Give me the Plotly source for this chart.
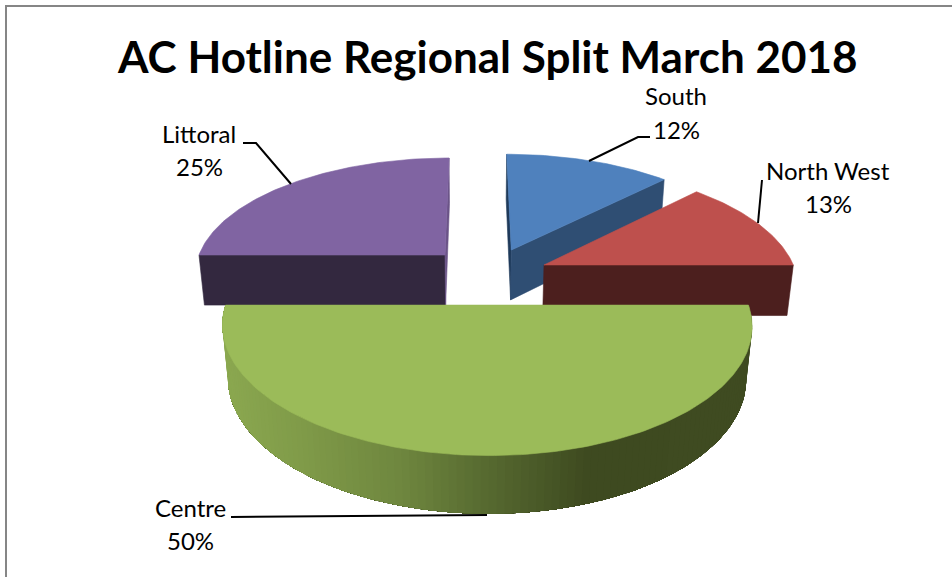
import math
import numpy as np
import plotly.graph_objects as go

# ---- data ----
categories = ["South", "North West", "Centre", "Littoral"]
values = [12.49, 12.51, 50.0, 25.0]

# ---- styling ----
TITLE = "AC Hotline Regional Split March 2018"
top_colors = ["#4F81BD", "#BE504D", "#9BBB59", "#8064A2"]
cut_colors = ["#2F4E73", "#4C1F1E", "#5D7035", "#33283F"]
explode_x = [35.5, 67.1, 10.3, -31.0]
explode_z = [11.0, -21.7, -103.5, 0.0]
FONT = "Lato"

W, H = 952, 577
VX = 476.0            # vanishing x
HORIZON = -490.0      # horizon y
TOP_A = 745.0         # camera height, top face
BOT_A = 811.0         # camera height, bottom face
BOT_U = 0.02          # extra depth of bottom face
R = 246.0
D = 1643.0
CENTRE_R = 245.0


def project(theta, ox, oz, bottom=False, radius=R):
    t = math.radians(theta)
    X = ox + radius * math.sin(t)
    Z = oz + radius * math.cos(t)
    u = 1 + Z / D
    if bottom:
        u += BOT_U
        return VX + X / u, HORIZON + BOT_A / u
    return VX + X / u, HORIZON + TOP_A / u


def poly(fig, pts, color, width=0.6):
    xs = [p[0] for p in pts] + [pts[0][0]]
    ys = [p[1] for p in pts] + [pts[0][1]]
    fig.add_trace(go.Scatter(x=xs, y=ys, mode="lines", fill="toself", fillcolor=color,
                             line=dict(color=color, width=width), hoverinfo="skip", showlegend=False))


def top_face(fig, a0, a1, ox, oz, color, radius=R):
    n = max(8, int(abs(a1 - a0)))
    pts = [project(0, ox, oz, radius=0)]
    pts += [project(a, ox, oz, radius=radius) for a in np.linspace(a0, a1, n + 1)]
    poly(fig, pts, color)


def cut_face(fig, a, ox, oz, color):
    poly(fig, [project(0, ox, oz, radius=0), project(a, ox, oz),
               project(a, ox, oz, bottom=True), project(0, ox, oz, bottom=True, radius=0)], color)


fig = go.Figure()

edges = np.concatenate([[0], np.cumsum(values)]) / sum(values) * 360
a = {c: (edges[i], edges[i + 1]) for i, c in enumerate(categories)}
idx = {c: i for i, c in enumerate(categories)}

# South
i = idx["South"]
cut_face(fig, a["South"][0], explode_x[i], explode_z[i], "#1F3A5A")
cut_face(fig, a["South"][1], explode_x[i], explode_z[i], cut_colors[i])
top_face(fig, *a["South"], explode_x[i], explode_z[i], top_colors[i])

# North West
i = idx["North West"]
cut_face(fig, a["North West"][1], explode_x[i], explode_z[i], cut_colors[i])
top_face(fig, *a["North West"], explode_x[i], explode_z[i], top_colors[i])

# Littoral
i = idx["Littoral"]
cut_face(fig, a["Littoral"][0], explode_x[i], explode_z[i], cut_colors[i])
cut_face(fig, a["Littoral"][1], explode_x[i], explode_z[i], "#6B5488")
top_face(fig, *a["Littoral"], explode_x[i], explode_z[i], top_colors[i])

# Centre: curved wall with a left-to-right shading, then the top face.
# Strips are painted right to left, each one reaching under the next, so no seams show.
i = idx["Centre"]
stop_x = [225, 300, 400, 490, 590, 755]
stop_rgb = np.array([[0x8B, 0xA8, 0x50], [0x80, 0x9B, 0x49], [0x6F, 0x87, 0x3F],
                     [0x56, 0x69, 0x30], [0x3E, 0x4A, 0x20], [0x40, 0x4C, 0x22]], dtype=float)
a0, a1 = a["Centre"]
steps = np.linspace(a0, a1, 121)
ox, oz = explode_x[i], explode_z[i]
for k0 in range(len(steps) - 1):
    s0 = steps[k0]
    s1 = steps[k0 + 1]
    arc = np.linspace(s0, a1, 2) if k0 == len(steps) - 2 else np.linspace(s0, a1, max(2, len(steps) - k0))
    top = [project(s, ox, oz, radius=CENTRE_R) for s in arc]
    bot = [project(s, ox, oz, bottom=True, radius=CENTRE_R) for s in arc[::-1]]
    xm = (project(s0, ox, oz, radius=CENTRE_R)[0] + project(s1, ox, oz, radius=CENTRE_R)[0]) / 2
    rgb = [int(np.interp(xm, stop_x, stop_rgb[:, c])) for c in range(3)]
    poly(fig, top + bot, f"rgb({rgb[0]},{rgb[1]},{rgb[2]})", width=0)
top_face(fig, a0, a1, ox, oz, top_colors[i], radius=CENTRE_R)

# Leader lines
leaders = {
    "Littoral": [(243, 143), (256, 143), (291, 184)],
    "South": [(650, 137), (638, 137), (589, 161)],
    "North West": [(762, 180), (758, 223)],
    "Centre": [(231, 517), (487, 515)],
}
for pts in leaders.values():
    fig.add_trace(go.Scatter(x=[p[0] for p in pts], y=[p[1] for p in pts], mode="lines",
                             line=dict(color="black", width=2), hoverinfo="skip", showlegend=False))

# Labels
label_pos = {
    "Littoral": (199, 133, 166),
    "South": (676, 95, 129),
    "North West": (828, 170, 203),
    "Centre": (190, 507, 540),
}
for c, v in zip(categories, values):
    x, y1, y2 = label_pos[c]
    fig.add_annotation(x=x, y=y1, text=c, showarrow=False, font=dict(family=FONT, size=24, color="black"))
    fig.add_annotation(x=x, y=y2, text=f"{round(v)}%", showarrow=False, font=dict(family=FONT, size=24, color="black"))

fig.add_annotation(x=487, y=56, text=f"<b>{TITLE}</b>", showarrow=False,
                   font=dict(family=FONT, size=44, color="black"))

# Chart frame: top and left edges
fig.add_shape(type="path", path=f"M 6 {H} L 6 6 L {W} 6", line=dict(color="#868686", width=2))

fig.update_layout(
    width=W, height=H, margin=dict(l=0, r=0, t=0, b=0),
    paper_bgcolor="white", plot_bgcolor="white", showlegend=False,
    xaxis=dict(range=[0, W], visible=False, fixedrange=True),
    yaxis=dict(range=[H, 0], visible=False, fixedrange=True),
)
fig.write_html("out.html", post_script="document.body.style.margin='0';",
               config=dict(displayModeBar=False))
